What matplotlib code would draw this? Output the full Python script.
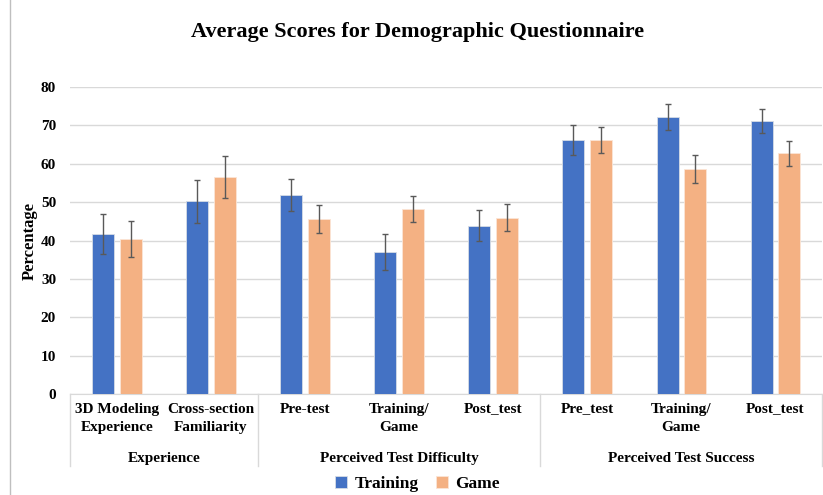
import numpy as np
import matplotlib.pyplot as plt
import matplotlib.transforms as mtransforms
from matplotlib.patches import Rectangle

plt.rcParams['font.family'] = ['Liberation Serif', 'DejaVu Serif']
plt.rcParams['font.weight'] = 'bold'

# data
labels = ['3D Modeling\nExperience', 'Cross-section\nFamiliarity', 'Pre-test', 'Training/\nGame',
          'Post_test', 'Pre_test', 'Training/\nGame', 'Post_test']
groups = ['Experience', 'Perceived Test Difficulty', 'Perceived Test Success']
group_bounds = [(-0.5, 1.5), (1.5, 4.5), (4.5, 7.5)]
training = [41.8, 50.2, 51.8, 37.0, 43.9, 66.2, 72.1, 71.1]
training_err = [5.2, 5.6, 4.2, 4.6, 4.0, 3.9, 3.4, 3.1]
game = [40.4, 56.5, 45.7, 48.2, 46.0, 66.2, 58.6, 62.7]
game_err = [4.8, 5.5, 3.7, 3.4, 3.6, 3.5, 3.7, 3.2]

fig = plt.figure(figsize=(8.23, 4.95), dpi=100)
ax = fig.add_axes([0.085, 0.204, 0.914, 0.62])

x = np.arange(len(labels))
w = 0.234
ekw = dict(ecolor='#595959', elinewidth=1, capsize=2, capthick=1)
ax.bar(x - 0.145, training, w, yerr=training_err, color='#4472C4', edgecolor='#D6DCE5',
       linewidth=0.6, label='Training', error_kw=ekw, zorder=3)
ax.bar(x + 0.145, game, w, yerr=game_err, color='#F4B183', edgecolor='#FBE5D6',
       linewidth=0.6, label='Game', error_kw=ekw, zorder=3)

ax.set_xlim(-0.5, 7.5)
ax.set_ylim(0, 80)
ax.set_yticks(range(0, 81, 10))
ax.tick_params(axis='y', length=0, labelsize=11, pad=10)
ax.set_xticks([])
ax.grid(axis='y', color='#D9D9D9', linewidth=1, zorder=0)
for s in ['top', 'right', 'left']:
    ax.spines[s].set_visible(False)
ax.spines['bottom'].set_color('#D9D9D9')
ax.set_ylabel('Percentage', fontsize=12, fontweight='bold', labelpad=2)

# two-level category axis
trans = mtransforms.blended_transform_factory(ax.transData, ax.transAxes)
for xi, lab in zip(x, labels):
    ax.text(xi, -0.028, lab, transform=trans, ha='center', va='top', fontsize=11,
            linespacing=1.55)
for (a, b), g in zip(group_bounds, groups):
    ax.text((a + b) / 2, -0.21, g, transform=trans, ha='center', va='center', fontsize=11)
for xb in [-0.5, 1.5, 4.5, 7.5]:
    ax.plot([xb, xb], [0, -0.235], transform=trans, color='#D9D9D9', lw=1, clip_on=False)

fig.suptitle('Average Scores for Demographic Questionnaire', x=0.507, y=0.955, fontsize=16,
             fontweight='bold')
fig.legend(loc='center', bbox_to_anchor=(0.507, 0.022), ncol=2, frameon=False, fontsize=12.5,
           handlelength=0.7, handleheight=0.7, columnspacing=1.0, handletextpad=0.4)

fig.patches.append(Rectangle((10 / 823, -0.01), 1.0, 1.02, transform=fig.transFigure,
                             fill=False, edgecolor='#BFBFBF', lw=1))

fig.savefig('out.png', dpi=100)
